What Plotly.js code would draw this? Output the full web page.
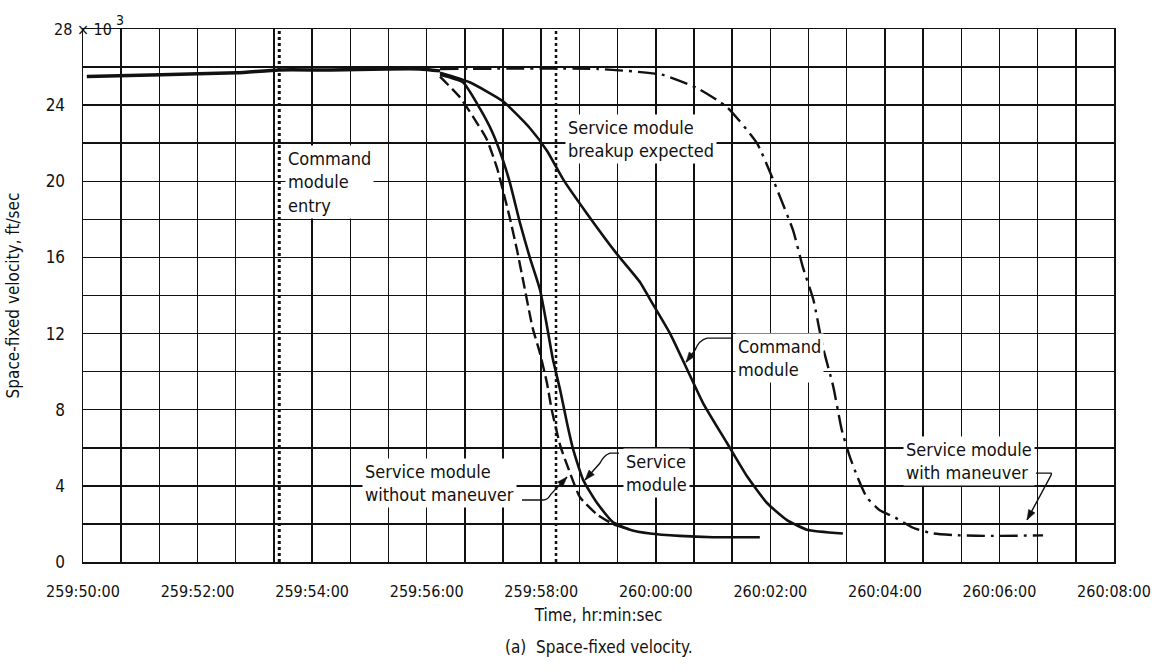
<!DOCTYPE html>
<html>
<head>
<meta charset="utf-8">
<script src="https://cdn.plot.ly/plotly-3.0.1.min.js"></script>
<style>
  html, body { margin: 0; padding: 0; background: #fff; }
  #chart { width: 1156px; height: 672px; }
</style>
</head>
<body>
<div id="chart"></div>
<script>
// Time in seconds after 259:50:00 ; velocity in thousands of ft/sec
const xTickVals = [0, 120, 240, 360, 480, 600, 720, 840, 960, 1080];
const xTickText = ["259:50:00", "259:52:00", "259:54:00", "259:56:00", "259:58:00",
                   "260:00:00", "260:02:00", "260:04:00", "260:06:00", "260:08:00"];
const yTickVals = [0, 4, 8, 12, 16, 20, 24];
const yTickText = ["0", "4", "8", "12", "16", "20", "24"];

// Combined vehicle before separation
const preSepT = [4, 82, 161, 205, 259, 318, 353, 374];
const preSepV = [25.5, 25.6, 25.7, 25.85, 25.85, 25.9, 25.9, 25.8];

// Command module
const cmT = [374, 405, 440, 468, 486, 503, 528, 559, 583.5, 594, 615, 633, 649.5, 674.6, 695.6, 716.5, 737.5, 758.4, 796];
const cmV = [25.7, 25.2, 24.2, 22.8, 21.6, 20.1, 18.3, 16.2, 14.7, 13.8, 12.0, 10.1, 8.35, 6.25, 4.5, 3.1, 2.2, 1.7, 1.5];

// Service module
const smT = [374, 398, 416, 429.5, 440, 447.3, 457.8, 468, 478.7, 486, 492, 500, 507, 513, 524, 538.5, 555, 573, 594, 625, 660, 709];
const smV = [25.6, 25.2, 23.8, 22.5, 21.1, 19.9, 17.8, 16.0, 14.3, 12.4, 10.7, 9.0, 7.3, 6.0, 4.3, 3.1, 2.1, 1.7, 1.5, 1.37, 1.3, 1.3];

// Service module without maneuver
const smNoManT = [374, 395, 408.5, 423, 433.7, 440, 447, 454.6, 461, 471, 478.5, 486, 491, 500, 510, 520.6, 538.5, 555, 573];
const smNoManV = [25.5, 24.4, 23.4, 22.2, 20.7, 19.5, 18.1, 16.4, 14.8, 12.3, 11.0, 9.4, 8.0, 6.1, 4.7, 3.4, 2.5, 2.0, 1.7];

// Service module with maneuver
const smManT = [374, 539.5, 606.5, 643, 674.6, 706, 722, 730, 744, 754, 765, 775, 786, 795, 803.5, 811, 821, 835, 848.5, 869.5, 890.4, 918.7, 953, 1005.7];
const smManV = [25.9, 25.9, 25.6, 24.9, 23.9, 22.0, 20.2, 19.2, 17.4, 15.5, 13.8, 11.3, 9.2, 6.9, 5.5, 4.5, 3.4, 2.7, 2.4, 1.8, 1.5, 1.4, 1.37, 1.4];

// Event markers: command module entry, service module breakup expected
const eventT = [205.6, 495.5];
const eventSpan = [0, 28];

// Label texts and their anchor (left edge, vertical middle) in data units
const labelText = ["Command<br>module<br>entry", "Service module<br>breakup expected", "Command<br>module",
                   "Service<br>module", "Service module<br>without maneuver", "Service module<br>with maneuver"];
const labelT = [211.6, 505, 683, 565.7, 292.3, 859];
const labelV = [19.98, 22.2, 10.7, 4.65, 4.15, 5.3];

// Leader lines: [start, corner, control, bend, tip] in data units
const leaders = [
  [[680.9, 11.76], [653.7, 11.76], [645.3, 11.66], [641.1, 11.13], [631.7, 10.50]],
  [[561.5, 5.72], [552.1, 5.72], [545.8, 5.62], [541.6, 5.20], [525.9, 4.31]],
  [[459.9, 3.26], [481.9, 3.26], [487.1, 3.26], [490.3, 3.57], [507.0, 4.46]],
  [[998.3, 4.67], [1014.0, 4.67], [1015.1, 4.62], [1013.0, 4.46], [988.9, 2.21]]
];

const FONT = "'DejaVu Sans Condensed', 'Liberation Sans Narrow', 'DejaVu Sans', sans-serif";
const INK = "#111";
const M = { l: 83, r: 42, t: 29, b: 110 };
const W = 1156, H = 672;
const xRange = [0, 1080], yRange = [0, 28];
const pw = W - M.l - M.r, ph = H - M.t - M.b;
const toPx = (p) => [M.l + (p[0] - xRange[0]) / (xRange[1] - xRange[0]) * pw,
                     M.t + (yRange[1] - p[1]) / (yRange[1] - yRange[0]) * ph];
const toData = (q) => [xRange[0] + (q[0] - M.l) / pw * (xRange[1] - xRange[0]),
                       yRange[1] - (q[1] - M.t) / ph * (yRange[1] - yRange[0])];
const fmt = (p) => p[0].toFixed(2) + "," + p[1].toFixed(3);

const curve = (x, y, width, dash) => ({
  type: "scatter", mode: "lines", x: x, y: y, hoverinfo: "skip", showlegend: false,
  line: { color: INK, width: width, dash: dash, shape: "spline", smoothing: 0.5 }
});

const traces = [
  curve(preSepT, preSepV, 3.5, "solid"),
  curve(cmT, cmV, 2.6, "solid"),
  curve(smT, smV, 2.6, "solid"),
  curve(smNoManT, smNoManV, 2.4, "12px,5px"),
  curve(smManT, smManV, 2.4, "18px,6px,3px,6px"),
];
eventT.forEach((t, i) => {
  traces.push({
    type: "scatter", mode: "lines", x: [t, t], y: eventSpan, hoverinfo: "skip", showlegend: false,
    line: { color: INK, width: i === 0 ? 3 : 2.5, dash: "dot" }
  });
});

const annotations = labelText.map((txt, i) => ({
  x: labelT[i], y: labelV[i], xref: "x", yref: "y", text: txt, showarrow: false,
  xanchor: "left", yanchor: "middle", align: "left",
  bgcolor: "#fff", borderpad: 2, font: { family: FONT, size: 18, color: INK }
}));
// "28 × 10^3" multiplier label at the top of the y axis
annotations.push({
  xref: "paper", yref: "paper", x: -0.030, y: 1.0, xanchor: "left", yanchor: "middle",
  text: "28 × 10", showarrow: false, font: { family: FONT, size: 16, color: INK }
});
annotations.push({
  xref: "paper", yref: "paper", x: 0.0305, y: 1.017, xanchor: "left", yanchor: "middle",
  text: "3", showarrow: false, font: { family: FONT, size: 14, color: INK }
});
annotations.push({
  xref: "paper", yref: "paper", x: 0.5, y: -0.16, xanchor: "center", yanchor: "middle",
  text: "(a)  Space-fixed velocity.", showarrow: false, font: { family: FONT, size: 17, color: INK }
});

const shapes = [];
leaders.forEach((L) => {
  shapes.push({
    type: "path", xref: "x", yref: "y", layer: "above", line: { color: INK, width: 1.4 },
    path: "M " + fmt(L[0]) + " L " + fmt(L[1]) + " Q " + fmt(L[2]) + " " + fmt(L[3]) + " L " + fmt(L[4])
  });
  // arrowhead from bend to tip, built in screen space
  const a = toPx(L[3]), b = toPx(L[4]);
  const dx = b[0] - a[0], dy = b[1] - a[1], len = Math.hypot(dx, dy);
  const ux = dx / len, uy = dy / len, nx = -uy, ny = ux;
  const hl = 10, hw = 3.6;
  const base = [b[0] - ux * hl, b[1] - uy * hl];
  const c1 = toData([base[0] + nx * hw, base[1] + ny * hw]);
  const c2 = toData([base[0] - nx * hw, base[1] - ny * hw]);
  shapes.push({
    type: "path", xref: "x", yref: "y", layer: "above", fillcolor: INK, line: { color: INK, width: 0.5 },
    path: "M " + fmt(L[4]) + " L " + fmt(c1) + " L " + fmt(c2) + " Z"
  });
});

const layout = {
  width: W, height: H,
  margin: M,
  paper_bgcolor: "#fff", plot_bgcolor: "#fff",
  font: { family: FONT, size: 16, color: INK },
  showlegend: false,
  xaxis: {
    range: xRange, tickmode: "array", tickvals: xTickVals, ticktext: xTickText,
    showgrid: true, gridcolor: INK, gridwidth: 1.5,
    zeroline: false, showline: true, linecolor: INK, linewidth: 1.5, mirror: true,
    ticks: "", ticklabelstandoff: 14, tickfont: { family: FONT, size: 16, color: INK },
    minor: { tickmode: "linear", tick0: 0, dtick: 40, showgrid: true, gridcolor: INK, gridwidth: 1.5, ticks: "" },
    title: { text: "Time, hr:min:sec", font: { family: FONT, size: 17, color: INK }, standoff: 9 }
  },
  yaxis: {
    range: yRange, tickmode: "array", tickvals: yTickVals, ticktext: yTickText,
    showgrid: true, gridcolor: INK, gridwidth: 1.5,
    zeroline: false, showline: true, linecolor: INK, linewidth: 1.5, mirror: true,
    ticks: "", ticklabelstandoff: 13, tickfont: { family: FONT, size: 17, color: INK },
    minor: { tickmode: "linear", tick0: 0, dtick: 2, showgrid: true, gridcolor: INK, gridwidth: 1.5, ticks: "" },
    title: { text: "Space-fixed velocity, ft/sec", font: { family: FONT, size: 17, color: INK }, standoff: 21 }
  },
  annotations: annotations,
  shapes: shapes
};

Plotly.newPlot("chart", traces, layout, { staticPlot: true, displayModeBar: false });
</script>
</body>
</html>
